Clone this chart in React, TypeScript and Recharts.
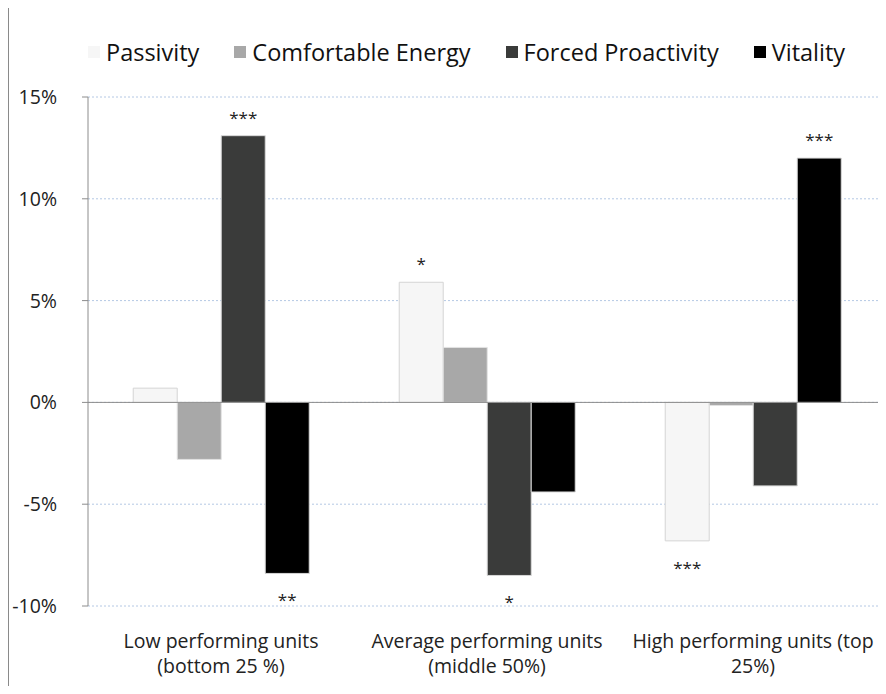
import { BarChart, Bar, XAxis, YAxis, CartesianGrid, ReferenceLine, LabelList } from 'recharts'

const categories = ['Low performing units (bottom 25 %)', 'Average performing units (middle 50%)', 'High performing units (top 25%)']
const categoryLines = [
  ['Low performing units', '(bottom 25 %)'],
  ['Average performing units', '(middle 50%)'],
  ['High performing units (top', '25%)'],
]

const passivity = [0.7, 5.9, -6.8]
const comfortableEnergy = [-2.8, 2.7, -0.15]
const forcedProactivity = [13.1, -8.5, -4.1]
const vitality = [-8.4, -4.4, 12.0]

// significance stars shown next to each bar
const passivitySig = ['', '*', '***']
const comfortableSig = ['', '', '']
const forcedSig = ['***', '*', '']
const vitalitySig = ['**', '', '***']

const yTicks = [-10, -5, 0, 5, 10, 15]

const series = [
  { name: 'Passivity', values: passivity, sig: passivitySig, color: '#f6f6f6', stroke: '#d4d4d4' },
  { name: 'Comfortable Energy', values: comfortableEnergy, sig: comfortableSig, color: '#a8a8a8', stroke: '#e2e2e2' },
  { name: 'Forced Proactivity', values: forcedProactivity, sig: forcedSig, color: '#3a3b3a', stroke: '#d8d8d8' },
  { name: 'Vitality', values: vitality, sig: vitalitySig, color: '#000000', stroke: '#d8d8d8' },
]

const data = categories.map((c, i) => {
  const row: Record<string, string | number> = { category: c }
  series.forEach((s) => {
    row[s.name] = s.values[i]
  })
  return row
})

const FONT = '"Open Sans", sans-serif'

const CategoryTick = (props: any) => {
  const { x, y, payload } = props
  const lines = categoryLines[payload.index] ?? [payload.value]
  return (
    <g transform={`translate(${x},${y})`}>
      {lines.map((l, i) => (
        <text key={i} x={0} y={34 + i * 25} textAnchor="middle" fill="#222" fontSize={19.5} fontFamily={FONT}>
          {l}
        </text>
      ))}
    </g>
  )
}

const starLabel = (sig: string[], values: number[]) => (props: any) => {
  const { x, y, width, height, index } = props
  const s = sig[index]
  if (!s) return null
  const top = Math.min(y, y + height)
  const bottom = Math.max(y, y + height)
  const above = values[index] >= 0
  return (
    <text
      x={x + width / 2}
      y={above ? top - 12 : bottom + 33}
      textAnchor="middle"
      fill="#222"
      fontSize={17}
      fontFamily={FONT}
    >
      {s}
    </text>
  )
}

export default function App() {
  return (
    <div style={{ position: 'relative', margin: -8, width: 886, height: 694, background: '#fff', overflow: 'hidden' }}>
      <div
        style={{
          position: 'absolute',
          left: 7,
          top: 5,
          width: 900,
          height: 700,
          borderLeft: '2px solid #8a8a8a',
          borderTop: '2px solid #8a8a8a',
        }}
      />
      <div
        style={{
          position: 'absolute',
          left: 88,
          top: 36,
          width: 795,
          display: 'flex',
          alignItems: 'center',
          whiteSpace: 'nowrap',
          fontFamily: FONT,
          fontSize: 23.5,
          color: '#111',
        }}
      >
        {series.map((s) => (
          <div key={s.name} style={{ display: 'flex', alignItems: 'center', flexShrink: 0, marginRight: 35 }}>
            <span style={{ display: 'inline-block', width: 12, height: 12, background: s.color, marginRight: 6 }} />
            <span>{s.name}</span>
          </div>
        ))}
      </div>
      <BarChart
        width={886}
        height={694}
        data={data}
        margin={{ top: 97, right: 0, bottom: 28, left: 0 }}
        barCategoryGap="17%"
        barGap={0}
        style={{ position: 'absolute', left: 0, top: 0 }}
      >
        <CartesianGrid vertical={false} stroke="#b4c8e4" strokeDasharray="2 2" />
        <XAxis dataKey="category" height={60} axisLine={false} tickLine={false} tick={<CategoryTick />} interval={0} />
        <YAxis
          width={88}
          domain={[-10, 15]}
          ticks={yTicks}
          tickFormatter={(v: number) => `${v}%`}
          axisLine={{ stroke: '#8c8c8c' }}
          tickLine={{ stroke: '#8c8c8c' }}
          tickSize={6}
          tickMargin={25}
          tick={{ fill: '#222', fontSize: 19.5, fontFamily: FONT }}
        />
        <ReferenceLine y={0} stroke="#8c8c8c" />
        {series.map((s) => (
          <Bar key={s.name} dataKey={s.name} fill={s.color} stroke={s.stroke} strokeWidth={1} isAnimationActive={false}>
            <LabelList dataKey={s.name} content={starLabel(s.sig, s.values)} />
          </Bar>
        ))}
      </BarChart>
    </div>
  )
}
